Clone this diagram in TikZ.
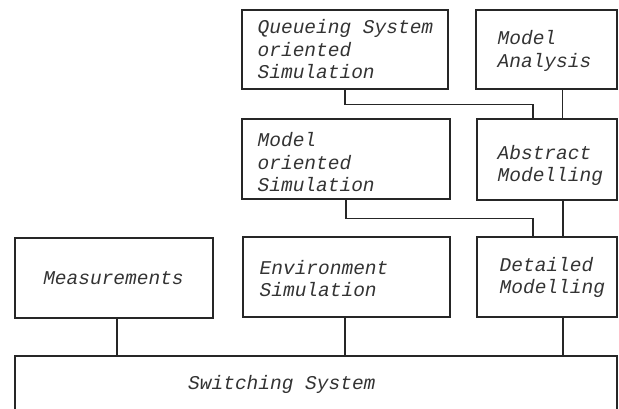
\documentclass[tikz,border=0pt]{standalone}
\usepackage{fontspec}
\setmonofont{Liberation Mono}
\begin{document}
\begin{tikzpicture}[x=1pt,y=-1pt,
  box/.style={draw=black!85, line width=1.1pt, rectangle, inner sep=0pt},
  lbl/.style={font=\fontsize{19.5}{22.5}\selectfont\ttfamily\itshape, text=black!80, align=left, inner sep=0pt, anchor=west},
  conn/.style={draw=black!85, line width=1.1pt}]
\useasboundingbox (0,0) rectangle (619,409);
\clip (0,0) rectangle (619,409);
% boxes
\node[box, minimum width=206, minimum height=79] (qs)  at (345,49.5) {};
\node[box, minimum width=141, minimum height=79] (ma)  at (546.5,49.5) {};
\node[box, minimum width=208, minimum height=80] (mos) at (346,159) {};
\node[box, minimum width=140, minimum height=81] (abs) at (547,159.5) {};
\node[box, minimum width=198, minimum height=80] (ms)  at (114,278) {};
\node[box, minimum width=207, minimum height=80] (env) at (346.5,277) {};
\node[box, minimum width=140, minimum height=80] (det) at (547,277) {};
\node[box, minimum width=602, minimum height=100] (sw) at (316,406) {};
% texts
\node[lbl] (qst)  at ([shift={(16,0)}]qs.west) {Queueing System\\oriented\\Simulation};
\node[lbl] (mat)  at ([shift={(22,1.5)}]ma.west) {Model\\Analysis};
\node[lbl] (most) at ([shift={(16,3.5)}]mos.west) {Model\\oriented\\Simulation};
\node[lbl] (abst) at ([shift={(21,6)}]abs.west) {Abstract\\Modelling};
\node[lbl, anchor=center] (mst) at ([shift={(-0.5,0)}]ms.center) {Measurements};
\node[lbl] (envt) at ([shift={(17,1.5)}]env.west) {Environment\\Simulation};
\node[lbl] (dett) at ([shift={(23,0.5)}]det.west) {Detailed\\Modelling};
\node[lbl] (swt)  at (188,384) {Switching System};
% connectors
\coordinate (absin) at ([xshift=-14pt]abs.north);
\coordinate (detin) at ([xshift=-14pt]det.north);
\coordinate (ma1) at ([xshift=16pt]ma.south);
\coordinate (abs1) at ([xshift=16pt]abs.south);
\coordinate (det1) at ([xshift=16pt]det.south);
\coordinate (ms1) at ([xshift=3pt]ms.south);
\coordinate (env1) at ([xshift=-1.5pt]env.south);
\draw[conn] (qs.south) -- ++(0,15) -| (absin);
\draw[conn] (ma1) -- (ma1 |- abs.north);
\draw[conn] (mos.south) -- ++(0,19) -| (detin);
\draw[conn] (abs1) -- (abs1 |- det.north);
\draw[conn] (ms1) -- (ms1 |- sw.north);
\draw[conn] (env1) -- (env1 |- sw.north);
\draw[conn] (det1) -- (det1 |- sw.north);
\end{tikzpicture}
\end{document}
